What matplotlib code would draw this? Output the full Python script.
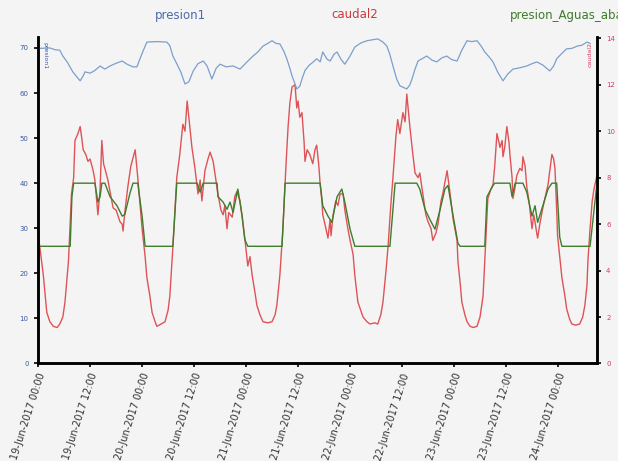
import matplotlib

matplotlib.use("Agg")
import matplotlib.pyplot as plt

# hours since first tick, values on the left (pressure) or right (flow) scale
caudal2_h = [0.0, 0.5, 1.3, 2.1, 2.8, 3.6, 4.5, 5.1, 5.8, 6.3, 7.1, 7.5, 7.8, 8.3, 8.6, 9.3, 9.8,
             10.1, 10.5, 11.1, 11.6, 12.1, 12.8, 13.2, 13.9, 14.4, 14.8, 15.2, 15.5, 16.2, 16.7,
             17.4, 18.1, 19.0, 19.5, 19.7, 20.1, 20.8, 21.5, 22.5, 23.1, 24.1, 24.8, 25.2, 25.9,
             26.4, 27.1, 27.5, 28.5, 29.4, 30.1, 30.5, 31.2, 32.1, 32.8, 33.5, 34.0, 34.5, 35.1,
             35.6, 36.3, 37.0, 37.5, 37.9, 38.6, 39.3, 39.8, 40.5, 41.2, 41.6, 42.3, 42.8, 43.2,
             43.7, 44.1, 44.9, 45.5, 46.0, 46.7, 47.4, 47.8, 48.5, 49.0, 49.5, 50.2, 50.6, 51.3,
             52.0, 53.1, 54.1, 54.8, 55.2, 55.9, 56.6, 57.3, 57.8, 58.2, 58.7, 59.4, 59.8, 60.1,
             60.5, 61.0, 61.5, 61.7, 62.2, 62.8, 63.5, 64.0, 64.4, 64.9, 65.2, 65.6, 65.8, 66.3,
             67.0, 67.5, 67.7, 68.2, 68.8, 69.3, 69.8, 70.5, 70.9, 71.6, 72.1, 72.8, 73.2, 73.9,
             75.1, 76.0, 76.7, 77.8, 78.5, 79.2, 79.7, 80.4, 80.9, 81.5, 82.0, 82.7, 83.1, 83.6,
             84.3, 84.8, 85.2, 85.9, 86.6, 87.1, 87.8, 88.2, 88.9, 89.6, 90.1, 90.8, 91.2, 91.9,
             92.4, 93.1, 93.5, 94.0, 94.5, 95.2, 95.9, 96.3, 96.8, 97.0, 97.5, 97.9, 98.6, 99.1,
             99.8, 100.5, 101.4, 102.1, 102.8, 103.2, 103.9, 104.6, 105.1, 105.5, 106.0, 106.5,
             106.7, 107.2, 107.4, 107.8, 108.3, 108.8, 109.0, 109.5, 109.7, 110.2, 110.6, 111.3,
             111.8, 112.0, 112.5, 112.9, 113.4, 114.1, 114.5, 114.8, 115.2, 115.4, 115.9, 116.6,
             117.3, 117.8, 118.2, 118.7, 119.1, 119.4, 119.8, 120.0, 120.5, 121.0, 121.7, 122.1,
             122.8, 123.3, 124.2, 125.1, 125.8, 126.3, 126.8, 127.0, 127.5, 128.0, 128.4, 129.1]
caudal2_v = [5.7, 5.0, 3.8, 2.2, 1.8, 1.6, 1.55, 1.7, 2.0, 2.65, 4.4, 6.0, 7.3, 8.0, 9.6, 9.9, 10.2,
             9.8, 9.2, 9.0, 8.7, 8.8, 8.3, 7.9, 6.4, 7.5, 9.6, 8.6, 8.4, 7.9, 7.4,
             6.7, 6.6, 6.1, 6.0, 5.7, 6.5, 7.6, 8.5, 9.2, 8.0, 5.8, 4.6, 3.7, 2.9,
             2.2, 1.8, 1.6, 1.7, 1.8, 2.3, 2.9, 5.0, 8.0, 9.0, 10.3, 10.0, 11.3, 10.2,
             9.3, 8.4, 7.3, 7.9, 7.0, 8.3, 8.8, 9.1, 8.7, 7.8, 7.3, 6.6, 6.4, 6.8,
             5.8, 6.5, 6.3, 7.2, 7.4, 7.0, 6.0, 5.4, 4.2, 4.6, 3.8, 3.0, 2.5, 2.1,
             1.8, 1.75, 1.8, 2.1, 2.5, 3.8, 5.8, 8.5, 10.2, 11.2, 11.9, 12.0, 11.0, 11.3,
             10.6, 10.8, 9.5, 8.7, 9.2, 9.0, 8.6, 9.2, 9.4, 8.5, 7.7, 7.0, 6.4, 6.0,
             5.4, 6.2, 5.5, 6.4, 7.0, 6.8, 7.3, 7.3, 6.6, 5.8, 5.3, 4.7, 3.8, 2.65,
             2.0, 1.8, 1.7, 1.75, 1.7, 2.1, 2.65, 4.0, 5.1, 6.8, 8.0, 9.8, 10.5, 9.9,
             10.8, 10.4, 11.6, 10.2, 9.0, 8.2, 8.0, 8.2, 7.3, 6.4, 6.1, 5.8, 5.3, 5.6,
             6.0, 7.0, 7.3, 7.8, 8.3, 7.3, 6.2, 5.8, 5.3, 4.4, 3.5, 2.65, 2.1, 1.8,
             1.6, 1.55, 1.6, 2.0, 2.9, 4.4, 7.1, 7.5, 7.7, 8.5, 9.9, 9.5,
             9.3, 9.6, 8.9, 9.3, 10.2, 9.5, 9.0, 8.0, 7.1, 7.6, 8.1, 8.4,
             8.3, 8.9, 8.5, 7.6, 7.0, 5.8, 6.4, 6.1, 5.6, 5.4, 6.0, 6.7,
             7.3, 7.7, 8.3, 9.0, 8.8, 8.4, 6.6, 5.5, 4.6, 3.7, 2.9, 2.35,
             1.9, 1.7, 1.65, 1.7, 2.0, 2.5, 3.4, 4.4, 5.8, 7.0, 7.5, 8.1]

aguas_abajo_h = [0.0, 7.5, 7.9, 8.3, 13.2, 13.9, 14.4, 14.8, 15.5, 16.7, 18.3, 19.5, 20.1, 21.3,
                 22.0, 23.1, 24.1, 24.8, 31.2, 32.1, 36.8, 37.5, 38.2, 41.4, 41.6, 42.8, 43.7,
                 44.4, 45.1, 46.2, 47.2, 47.8, 48.5, 56.4, 57.1, 65.2, 65.8, 67.0, 67.9, 69.1,
                 70.2, 70.9, 72.1, 73.2, 81.3, 82.5, 87.5, 88.2, 89.4, 90.5, 91.7, 92.9, 94.0,
                 94.7, 95.9, 97.0, 97.5, 103.2, 103.7, 105.1, 105.5, 109.0, 109.5, 110.2, 112.0,
                 112.9, 114.1, 114.8, 115.4, 116.6, 117.8, 118.7, 119.8, 120.5, 121.0, 127.5, 129.1]
aguas_abajo_v = [26, 26, 37, 40, 40, 35.8, 37, 40, 40, 37, 35, 32.7, 33, 37.8,
                 40, 40, 32.7, 26, 26, 40, 40, 38, 40, 40, 37, 35.8, 34.2,
                 35.8, 33.5, 38.7, 32.7, 27.5, 26, 26, 40, 40, 35, 32.7, 31.3, 37,
                 38.7, 35.8, 29.8, 26, 26, 40, 40, 38.7, 34.2, 32, 29.8, 34.2, 38.7,
                 39.5, 32.7, 26.7, 26, 26, 37, 39.5, 40, 40, 37, 40, 40,
                 38, 32.7, 35, 31.3, 35, 38.7, 40, 40, 28, 26, 26, 40]

presion1_h = [0.0, 0.5, 2.8, 4.0, 5.1, 5.8, 6.8, 8.1, 9.1, 9.8, 10.5, 10.9, 12.1, 13.2, 14.4,
              15.5, 16.7, 18.1, 19.5, 20.6, 22.0, 22.9, 24.1, 25.2, 27.5, 29.8, 30.5, 31.2,
              32.1, 33.1, 34.0, 34.9, 35.9, 37.0, 38.2, 39.1, 40.2, 41.2, 42.1, 43.5, 45.1,
              46.7, 48.1, 49.7, 50.8, 52.0, 53.1, 54.1, 55.0, 55.9, 56.8, 57.5, 58.2, 58.7,
              59.4, 59.8, 60.5, 61.0, 61.7, 62.7, 63.5, 64.4, 65.2, 65.8, 66.8, 67.5, 68.4,
              69.1, 70.0, 70.9, 72.1, 73.2, 74.6, 76.0, 77.2, 78.5, 79.7, 80.6, 81.3, 82.0,
              82.9, 83.6, 84.5, 85.2, 85.9, 86.4, 87.1, 87.8, 88.7, 89.8, 91.0, 92.1, 93.3,
              94.4, 95.6, 96.8, 97.9, 99.1, 100.2, 101.4, 102.3, 103.2, 104.2, 105.1, 106.2,
              107.4, 108.5, 109.7, 111.3, 112.9, 114.1, 115.2, 116.6, 118.2, 119.1, 119.8,
              121.0, 122.1, 123.3, 124.5, 125.6, 126.8, 127.5]
presion1_v = [69.8, 69.9, 70.0, 69.6, 69.5, 68.2, 66.9, 64.7, 63.5, 62.7, 63.8, 64.7, 64.4, 65.0, 66.0,
              65.3, 66.0, 66.6, 67.1, 66.4, 65.8, 65.8, 68.8, 71.3, 71.4, 71.3, 70.5, 68.2,
              66.5, 64.5, 62.0, 62.5, 64.9, 66.5, 67.1, 66.0, 63.1, 65.5, 66.4, 65.8, 66.0,
              65.3, 66.7, 68.2, 69.1, 70.4, 71.0, 71.6, 71.0, 70.9, 69.3, 67.6, 65.5, 63.8,
              62.0, 60.9, 61.5, 63.1, 65.0, 66.2, 66.8, 67.6, 66.9, 69.1, 67.5, 67.1, 68.6,
              69.1, 67.5, 66.4, 68.2, 70.2, 71.1, 71.6, 71.8, 72.0, 71.3, 70.4, 68.5, 66.0,
              63.0, 61.6, 61.2, 60.9, 61.8, 63.1, 65.3, 67.1, 67.6, 68.2, 67.3, 66.9, 67.8,
              68.2, 67.4, 67.1, 69.5, 71.6, 71.4, 71.6, 70.5, 69.1, 68.0, 66.9, 64.6,
              62.7, 64.2, 65.3, 65.6, 66.0, 66.5, 66.9, 66.2, 64.9, 66.0, 67.6,
              68.8, 69.8, 69.9, 70.4, 70.6, 71.3, 71.0]

tick_hours = [0, 12, 24, 36, 48, 60, 72, 84, 96, 108, 120]
tick_labels = ["19-Jun-2017 00:00", "19-Jun-2017 12:00", "20-Jun-2017 00:00",
               "20-Jun-2017 12:00", "21-Jun-2017 00:00", "21-Jun-2017 12:00",
               "22-Jun-2017 00:00", "22-Jun-2017 12:00", "23-Jun-2017 00:00",
               "23-Jun-2017 12:00", "24-Jun-2017 00:00"]

BLUE = "#7c9fcc"
RED = "#de5357"
GREEN = "#3f7d2c"

fig = plt.figure(figsize=(6.18, 4.61), dpi=100, facecolor="#f4f4f4")
ax = fig.add_axes([0.061, 0.2115, 0.905, 0.708])
ax2 = ax.twinx()

# pressures drawn above the flow curve
ax.set_zorder(ax2.get_zorder() + 1)
ax.patch.set_visible(False)
ax2.set_facecolor("#f7f6f6")

ax2.plot(caudal2_h, caudal2_v, color=RED, lw=1.0)
ax.plot(aguas_abajo_h, aguas_abajo_v, color=GREEN, lw=1.0)
ax.plot(presion1_h, presion1_v, color=BLUE, lw=0.9)

ax.set_xlim(0, 129.1)
ax.set_ylim(0, 72.4)
ax2.set_ylim(0, 14.05)
ax.set_yticks(range(0, 80, 10))
ax2.set_yticks(range(0, 16, 2))
ax.set_xticks(tick_hours)
ax.set_xticklabels(tick_labels, rotation=72, ha="right", va="top",
                   rotation_mode="anchor", fontsize=7, color="#333333")

for a in (ax, ax2):
    a.spines["top"].set_visible(False)
    a.spines["left"].set_linewidth(1.8)
    a.spines["right"].set_linewidth(1.8)
    a.spines["bottom"].set_linewidth(1.8)
ax.tick_params(axis="y", labelsize=5, labelcolor="#3b5ba0", length=3, width=1.2)
ax2.tick_params(axis="y", labelsize=5, labelcolor="#d04060", length=3, width=1.2)
ax.tick_params(axis="x", length=3, width=1.2, pad=3)

ax.text(0.012, 0.985, "presion1", transform=ax.transAxes, rotation=270,
        ha="center", va="top", fontsize=4.5, color="#3b5ba0")
ax2.text(0.988, 0.985, "caudal2", transform=ax2.transAxes, rotation=90,
         ha="center", va="top", fontsize=4.5, color="#d04060")

fig.text(180 / 618, 1 - 15 / 461, "presion1", ha="center", va="center",
         fontsize=8.5, color="#4a6aaa")
fig.text(355 / 618, 1 - 15 / 461, "caudal2", ha="center", va="center",
         fontsize=8.5, color="#c8383c")
fig.text(510 / 618, 1 - 15 / 461, "presion_Aguas_abajo", ha="left", va="center",
         fontsize=8.5, color="#3d7a2a")

fig.savefig("out.png", dpi=100, facecolor=fig.get_facecolor())
